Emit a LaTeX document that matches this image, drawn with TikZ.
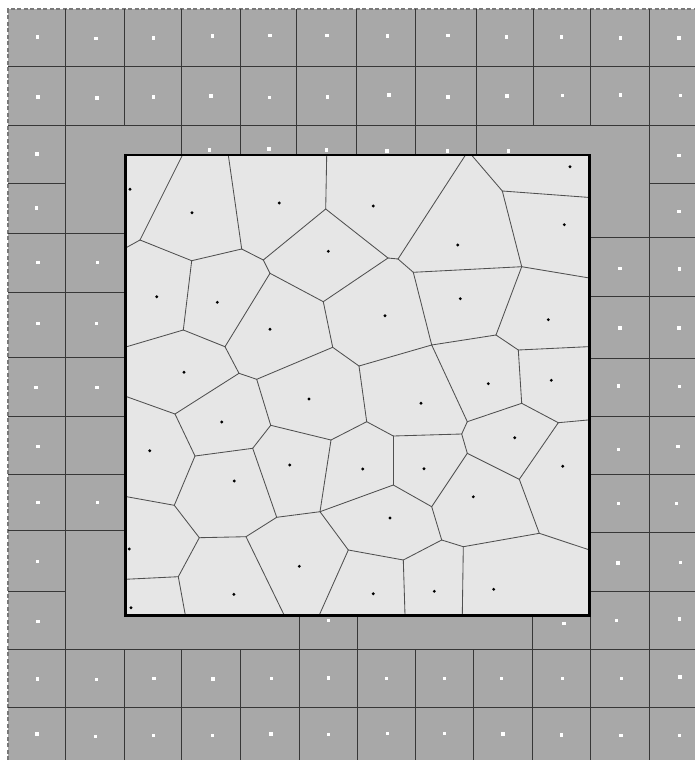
\documentclass[tikz,border=0pt]{standalone}
\definecolor{outerfill}{RGB}{168,168,168}
\definecolor{innerfill}{RGB}{230,230,230}
\definecolor{gridcol}{RGB}{55,55,55}
\definecolor{edgecol}{RGB}{80,80,80}
\definecolor{dashcol}{RGB}{120,120,120}
\def\seeds{130/189.3, 192/212.7, 279.3/203, 373.3/206, 457.7/245, 570/166.7,
 564.3/224.7, 328.3/251.3, 156.7/296.7, 217.3/302.3, 270/329.3, 385/315.7,
 460.3/298.7, 548.3/319.7, 184/372.3, 309/399, 421/403.3, 488.3/383.7,
 551.3/380.3, 221.7/422, 149.7/450.7, 289.7/465, 362.7/469, 424/468.7,
 514.7/437.7, 562.7/466.3, 473.3/496.8, 234.3/481, 390/518, 129.3/549,
 299.3/566.3, 373.3/593.7, 434.3/591.3, 493.7/589.3, 131/607.7, 233.9/594.3}
\begin{document}
\begin{tikzpicture}[x=1pt,y=-1pt,
  gridseg/.style={draw=gridcol,line width=0.9pt},
  vedge/.style={draw=edgecol,line width=0.85pt,line cap=round},
  wdot/.style={fill=white},
  bdot/.style={fill=black},
  frame/.style={draw=black,line width=2.4pt}]
\useasboundingbox (0,0) rectangle (695,760);
% outer area
\fill[outerfill] (8,9) rectangle (695,760);
\draw[dashcol,line width=1.2pt,dash pattern=on 4pt off 2.5pt] (8,760) -- (8,9) -- (695,9);
% vertical grid segments
\foreach \x/\ya/\yb in {65.5/9/760, 124.5/9/125, 124.5/649/760, 181.5/9/155, 181.5/649/760,
  240.5/9/155, 240.5/649/760, 296/9/155, 299/615/760, 356.5/9/155, 357/615/760,
  415.3/9/155, 415.3/649/760, 476.3/9/155, 473.3/649/760, 533/9/125, 532.7/615/760,
  590.3/9/125, 590.3/615/760, 649.3/9/760}
  \draw[gridseg] (\x,\ya) -- (\x,\yb);
% horizontal grid segments
\foreach \y/\xa/\xb in {66.3/8/695, 125/8/695, 183/8/65.5, 183/649.3/695, 233.3/8/125,
  237.3/590/695, 292.3/8/125, 296.7/590/695, 357.3/8/125, 358.3/590/695,
  416.7/8/125, 416.7/590/695, 474.3/8/125, 474.3/590/695, 530.7/8/125,
  532.7/590/695, 591/8/65.5, 591.7/590/695, 649.3/8/695, 707.3/8/695}
  \draw[gridseg] (\xa,\y) -- (\xb,\y);
% white seed dots of the outer cells
\foreach \x/\y in {37.7/37, 96/38.3, 153.3/38, 212.3/36, 270/35.5, 327/35.5, 387.7/36,
  448/35.5, 506.7/37, 561.3/37, 620.3/38, 679/38,
  38/97, 97/98, 153.3/97, 211/96, 269.3/97.7, 327.7/97, 389/95, 448/97, 507/96,
  562.3/95.7, 620.7/95, 680.3/95.7,
  37/154, 209.3/150, 269/149, 326.7/150, 387/151, 447.7/151, 508.3/151, 679/155.7,
  36.3/208, 38/262.3, 38/323.7, 36/387.3, 38/446.3, 38/502.7, 37.7/561.3, 38/621.3,
  97.7/262.7, 96.3/323.7, 97/387.3, 97.3/502.3,
  679/211.3, 679.3/269, 679/328, 679.3/386.7, 678/446.7, 676.7/503.7, 680.7/562.3, 679.7/619,
  620/268.7, 620/328, 618.3/386, 618.7/449.7, 618.3/503.7, 618/563, 616.7/620.3,
  328.7/620.7, 564/623.7,
  37.7/679, 96.3/679.7, 154/678.7, 213/679, 271.7/678.3, 328.3/678, 386.3/678.3,
  444.7/678.3, 501.7/678.7, 562.3/678.3, 621.3/678.7, 680/677,
  37/734, 95.7/736.7, 153.3/735.7, 212.3/735.7, 271/734, 328.3/734.3, 387.7/733.7,
  444.3/733.3, 503/734, 561.7/735, 621/735.7, 679.3/735.7}
  \fill[wdot] (\x-1.6,\y-1.6) rectangle (\x+1.6,\y+1.6);
% inner square
\fill[innerfill] (125,155) rectangle (590,615);
% Voronoi vertices on the frame
\coordinate (b1) at (182.5,155);
\coordinate (b2) at (228.3,155);
\coordinate (b3) at (326.7,155);
\coordinate (b4) at (465.5,155);
\coordinate (b5) at (471.5,155);
\coordinate (b6) at (590,197.5);
\coordinate (b7) at (590,278.1);
\coordinate (b8) at (590,346.6);
\coordinate (b9) at (590,419.8);
\coordinate (b10) at (590,550.1);
\coordinate (b11) at (462.3,615);
\coordinate (b12) at (405,615);
\coordinate (b13) at (319.3,615);
\coordinate (b14) at (284.1,615);
\coordinate (b15) at (185.3,615);
\coordinate (b16) at (125,579.3);
\coordinate (b17) at (125,496.4);
\coordinate (b18) at (125,396.1);
\coordinate (b19) at (125,347.2);
\coordinate (b20) at (125,248.3);
% inner Voronoi vertices
\coordinate (v1) at (140,240);
\coordinate (v2) at (191.7,260.7);
\coordinate (v3) at (241.7,249);
\coordinate (v4) at (263.3,260);
\coordinate (v5) at (270,273.3);
\coordinate (v6) at (325.7,209);
\coordinate (v7) at (388,258);
\coordinate (v8) at (398,259);
\coordinate (v9) at (413.3,272.3);
\coordinate (v10) at (502.3,191);
\coordinate (v11) at (521.7,266.7);
\coordinate (v12) at (496,335);
\coordinate (v13) at (518.3,350);
\coordinate (v14) at (521.7,403.3);
\coordinate (v15) at (558.3,422.7);
\coordinate (v16) at (431.7,345);
\coordinate (v17) at (467.3,421.7);
\coordinate (v18) at (461.7,434);
\coordinate (v19) at (467.3,453.3);
\coordinate (v20) at (519.3,479.3);
\coordinate (v21) at (539.3,533.3);
\coordinate (v22) at (323.3,301.7);
\coordinate (v23) at (332.7,347.3);
\coordinate (v24) at (359,366);
\coordinate (v25) at (366.7,421.7);
\coordinate (v26) at (393.3,436);
\coordinate (v27) at (393.3,485);
\coordinate (v28) at (331,440);
\coordinate (v29) at (270.7,425.3);
\coordinate (v30) at (256.7,379.3);
\coordinate (v31) at (239,373.3);
\coordinate (v32) at (225,346.7);
\coordinate (v33) at (183.3,330);
\coordinate (v34) at (175,414);
\coordinate (v35) at (195,456);
\coordinate (v36) at (252.7,448.3);
\coordinate (v37) at (174.3,505.3);
\coordinate (v38) at (276.7,517.3);
\coordinate (v39) at (320,511.7);
\coordinate (v40) at (431.7,506.7);
\coordinate (v41) at (441.7,540);
\coordinate (v42) at (463.3,546.7);
\coordinate (v43) at (348.3,550);
\coordinate (v44) at (403.3,560);
\coordinate (v45) at (246,536.7);
\coordinate (v46) at (199.3,537.7);
\coordinate (v47) at (178.3,576.7);
% Voronoi edges
\foreach \a/\b in {b1/v1, v1/b20, v1/v2, v2/v3, b2/v3, v3/v4, v4/v6, v6/b3, v4/v5,
  v5/v22, v5/v32, v2/v33, v33/b19, v33/v32, v32/v31, v6/v7, v7/v8, v8/b4, v7/v22,
  v8/v9, v9/v11, v9/v16, b5/v10, v10/b6, v10/v11, v11/b7, v11/v12, v12/v16,
  v12/v13, v13/b8, v13/v14, v14/v15, v15/b9, v14/v17, v16/v17, v16/v24, v17/v18,
  v18/v19, v18/v26, v19/v20, v20/v15, v20/v21, v21/b10, v21/v42, v19/v40,
  v22/v23, v23/v24, v23/v30, v24/v25, v25/v26, v25/v28, v26/v27, v27/v39,
  v27/v40, v28/v29, v28/v39, v29/v30, v29/v36, v30/v31, v31/v34, v34/b18,
  v34/v35, v35/v36, v35/v37, v36/v38, v37/b17, v37/v46, v38/v39, v38/v45,
  v39/v43, v40/v41, v41/v42, v41/v44, v42/b11, v43/v44, v43/b13, v44/b12,
  v45/v46, v45/b14, v46/v47, v47/b16, v47/b15}
  \draw[vedge] (\a) -- (\b);
% black seed dots
\foreach \px/\py in \seeds
  \fill[bdot] (\px,\py) circle (1.6);
% frame
\draw[frame] (125.3,155.2) rectangle (589.3,615.3);
\end{tikzpicture}
\end{document}
